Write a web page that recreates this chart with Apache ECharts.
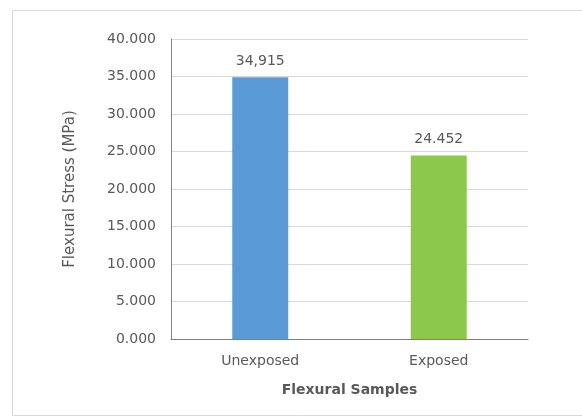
<!DOCTYPE html>
<html>
<head>
<meta charset="utf-8">
<script src="https://cdn.jsdelivr.net/npm/echarts@6/dist/echarts.min.js"></script>
<style>
  html, body { margin: 0; padding: 0; background: #ffffff; }
  #chart { width: 582px; height: 419px; }
</style>
</head>
<body>
<div id="chart"></div>
<script>
// Flexural stress of unexposed vs exposed samples
const categories = ['Unexposed', 'Exposed'];
const stressValues = [34.915, 24.452];
const valueLabels = ['34,915', '24.452'];
const barColors = ['#5b9bd5', '#8cc84b'];
const yTicks = { min: 0, max: 40, interval: 5 };

const chart = echarts.init(document.getElementById('chart'), null, { renderer: 'canvas' });
const textFont = 'DejaVu Sans, sans-serif';

chart.setOption({
  animation: false,
  backgroundColor: '#ffffff',
  graphic: [{
    type: 'rect',
    shape: { x: 12.5, y: 10.5, width: 580, height: 405 },
    style: { fill: 'none', stroke: '#d9d9d9', lineWidth: 1 },
    silent: true
  }],
  grid: { left: 171, right: 54, top: 39, bottom: 80 },
  xAxis: {
    type: 'category',
    data: categories,
    name: 'Flexural Samples',
    nameLocation: 'middle',
    nameGap: 44,
    nameTextStyle: { fontFamily: textFont, fontSize: 14, fontWeight: 'bold', color: '#595959' },
    axisLine: { lineStyle: { color: '#808080', width: 1 } },
    axisTick: { show: false },
    axisLabel: { fontFamily: textFont, fontSize: 14, color: '#595959', margin: 15 },
    splitLine: { show: false }
  },
  yAxis: {
    type: 'value',
    min: yTicks.min,
    max: yTicks.max,
    interval: yTicks.interval,
    name: 'Flexural Stress (MPa)',
    nameLocation: 'middle',
    nameGap: 93,
    nameRotate: 90,
    nameTextStyle: { fontFamily: textFont, fontSize: 15, color: '#595959' },
    axisLine: { show: true, lineStyle: { color: '#808080', width: 1 } },
    axisTick: { show: false },
    axisLabel: {
      fontFamily: textFont, fontSize: 14, color: '#595959', margin: 15,
      formatter: v => v.toFixed(3)
    },
    splitLine: { show: true, lineStyle: { color: '#d9d9d9', width: 1 } }
  },
  series: [{
    type: 'bar',
    barWidth: 56,
    data: stressValues.map((v, i) => ({ value: v, itemStyle: { color: barColors[i] } })),
    label: {
      show: true,
      position: 'top',
      distance: 9,
      fontFamily: textFont,
      fontSize: 14,
      color: '#595959',
      formatter: p => valueLabels[p.dataIndex]
    }
  }]
});
</script>
</body>
</html>
